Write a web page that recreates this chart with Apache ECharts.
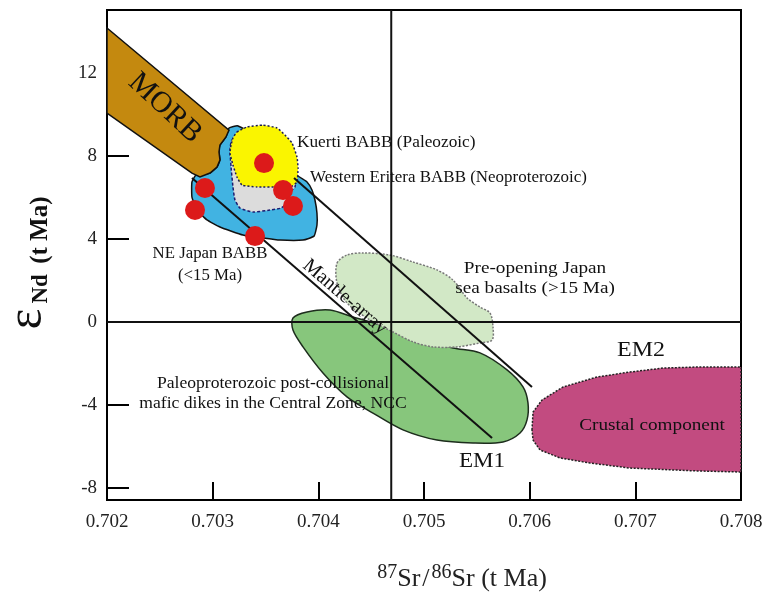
<!DOCTYPE html>
<html>
<head>
<meta charset="utf-8">
<script src="https://cdn.jsdelivr.net/npm/echarts@6/dist/echarts.min.js"></script>
<style>
  html, body { margin: 0; padding: 0; background: #fff; }
  #chart { width: 766px; height: 594px; }
</style>
</head>
<body>
<div id="chart"></div>
<script>
// Axis ticks
const SR_TICKS = [0.702, 0.703, 0.704, 0.705, 0.706, 0.707, 0.708];
const ND_TICKS = [-8, -4, 0, 4, 8, 12];

// Reference lines: epsilon Nd = 0 and bulk-earth 87Sr/86Sr
const BULK_EARTH_SR = 0.70469;
const CHUR_ND = 0;

// Mantle array bounding lines [Sr, eNd]
const MANTLE_UPPER = [[0.703770, 6.94], [0.706022, -3.13]];
const MANTLE_LOWER = [[0.702804, 6.94], [0.705644, -5.59]];

// Field outlines [87Sr/86Sr, eNd]
const MORB = [
  [0.702000, 14.17], [0.703155, 9.25], [0.703126, 8.92], [0.703069, 8.53],
  [0.703060, 8.19], [0.703069, 7.81], [0.703041, 7.47], [0.702975, 7.18],
  [0.702880, 6.99], [0.702804, 7.18], [0.702000, 10.07]
];
const NE_JAPAN_BABB = [
  [0.703155, 9.35], [0.703240, 9.45], [0.703637, 8.29], [0.703798, 7.08],
  [0.703893, 6.75], [0.703940, 6.36], [0.703968, 5.88], [0.703987, 5.25],
  [0.703987, 4.67], [0.703959, 4.14], [0.703855, 3.95], [0.703637, 3.95],
  [0.703476, 4.05], [0.703287, 4.19], [0.703069, 4.58], [0.702946, 4.92],
  [0.702852, 5.40], [0.702804, 6.02], [0.702804, 6.75], [0.702842, 7.08],
  [0.702975, 7.18], [0.703041, 7.47], [0.703069, 7.81], [0.703060, 8.19],
  [0.703069, 8.53], [0.703126, 8.92]
];
const WESTERN_ERITREA_BABB = [
  [0.703183, 8.77], [0.703467, 8.29], [0.703789, 7.23], [0.703779, 6.51],
  [0.703741, 6.31], [0.703713, 6.07], [0.703704, 5.73], [0.703647, 5.49],
  [0.703543, 5.40], [0.703382, 5.30], [0.703259, 5.49], [0.703211, 5.88],
  [0.703192, 6.51], [0.703174, 7.47], [0.703164, 8.29]
];
const KUERTI_BABB = [
  [0.703230, 9.16], [0.703325, 9.40], [0.703476, 9.49], [0.703609, 9.35],
  [0.703685, 9.01], [0.703751, 8.63], [0.703798, 7.95], [0.703808, 7.42],
  [0.703798, 6.75], [0.703751, 6.55], [0.703637, 6.51], [0.703420, 6.51],
  [0.703278, 6.60], [0.703230, 6.99], [0.703192, 7.57], [0.703164, 8.14],
  [0.703174, 8.53], [0.703192, 8.87]
];
const PRE_OPENING_JAPAN = [
  [0.704177, 2.84], [0.704271, 3.23], [0.704423, 3.33], [0.704678, 3.23],
  [0.704896, 2.89], [0.705123, 2.51], [0.705275, 2.02], [0.705407, 1.16],
  [0.705530, 0.72], [0.705625, 0.43], [0.705653, -0.24], [0.705644, -0.87],
  [0.705530, -1.01], [0.705312, -1.20], [0.705085, -1.20], [0.704896, -0.96],
  [0.704707, -0.48], [0.704489, 0.10], [0.704271, 0.92], [0.704177, 1.88]
];
const NCC_DIKES = [
  [0.703760, 0.19], [0.703893, 0.48], [0.704110, 0.58], [0.704328, 0.24],
  [0.704678, -0.29], [0.704991, -0.87], [0.705275, -1.25], [0.705530, -1.49],
  [0.705786, -2.31], [0.705937, -3.13], [0.705984, -3.90], [0.705975, -4.72],
  [0.705909, -5.35], [0.705748, -5.78], [0.705464, -5.83], [0.705123, -5.69],
  [0.704801, -5.20], [0.704517, -4.39], [0.704271, -3.61], [0.704044, -2.46],
  [0.703855, -1.20], [0.703760, -0.39]
];
const CRUSTAL = [
  [0.706022, -5.20], [0.706032, -4.34], [0.706117, -3.76], [0.706316, -3.13],
  [0.706637, -2.65], [0.706950, -2.41], [0.707262, -2.22], [0.707584, -2.17],
  [0.708000, -2.17], [0.708000, -7.23], [0.707584, -7.18], [0.706950, -7.04],
  [0.706571, -6.80], [0.706287, -6.55], [0.706098, -6.17], [0.706032, -5.69]
];

// BABB samples
const SAMPLES = [
  [0.702927, 6.46], [0.702833, 5.40], [0.703486, 7.66],
  [0.703666, 6.36], [0.703760, 5.59], [0.703401, 4.14]
];

const SR_MIN = 0.702, SR_MAX = 0.708;
const ND_MIN = -8.58, ND_MAX = 15.04;

const SERIF = '"Liberation Serif", "DejaVu Serif", serif';

function region(points, style, smooth, z) {
  return {
    type: 'custom',
    coordinateSystem: 'cartesian2d',
    silent: true,
    z: z,
    data: points,
    encode: { x: 0, y: 1 },
    renderItem: function (params, api) {
      if (params.dataIndex !== 0) return null;
      const pts = points.map(function (p) { return api.coord(p); });
      return {
        type: 'polygon',
        shape: { points: pts, smooth: smooth },
        style: Object.assign({}, style)
      };
    }
  };
}

function segment(points, z) {
  return {
    type: 'line',
    data: points,
    showSymbol: false,
    silent: true,
    z: z,
    lineStyle: { color: '#111', width: 2 }
  };
}

function label(text, x, y, size, opts) {
  opts = opts || {};
  return {
    type: 'text',
    x: x, y: y,
    rotation: opts.rotation || 0,
    scaleX: opts.scaleX || 1,
    z: 100,
    silent: true,
    style: {
      text: text,
      font: (opts.weight || 'normal') + ' ' + size + 'px ' + SERIF,
      fill: opts.color || '#111',
      align: opts.align || 'center',
      textAlign: opts.align || 'center',
      verticalAlign: 'middle',
      textVerticalAlign: 'middle',
      lineHeight: opts.lineHeight || Math.round(size * 1.25)
    }
  };
}

const chart = echarts.init(document.getElementById('chart'));

chart.setOption({
  animation: false,
  backgroundColor: '#fff',
  grid: {
    left: 107, right: 25, top: 10, bottom: 94,
    containLabel: false,
    outerBoundsMode: 'none',
    show: true, borderColor: '#000', borderWidth: 2, backgroundColor: 'transparent'
  },
  xAxis: {
    type: 'value',
    min: SR_MIN, max: SR_MAX,
    axisLine: { show: true, onZero: false, lineStyle: { color: '#000', width: 2 } },
    axisTick: { show: true, inside: true, length: 18, customValues: SR_TICKS,
                lineStyle: { color: '#000', width: 2 } },
    axisLabel: { customValues: SR_TICKS, margin: 13, color: '#222',
                 fontFamily: SERIF, fontSize: 19,
                 formatter: function (v) { return v.toFixed(3); } },
    splitLine: { show: false },
    name: '{sup|87}{b|Sr}{sl|/}{sup|86}{b|Sr (t Ma)}',
    nameLocation: 'middle',
    nameGap: 63,
    nameTextStyle: {
      padding: [0, 0, 0, 76],
      rich: {
        sup: { fontFamily: SERIF, fontSize: 20, color: '#222', verticalAlign: 'top', padding: [0, 0, 9, 0] },
        b: { fontFamily: SERIF, fontSize: 26, color: '#222', verticalAlign: 'bottom' },
        sl: { fontFamily: SERIF, fontSize: 26, color: '#222', verticalAlign: 'bottom', padding: [0, 2, 0, 2] }
      }
    }
  },
  yAxis: {
    type: 'value',
    min: ND_MIN, max: ND_MAX,
    axisLine: { show: true, onZero: false, lineStyle: { color: '#000', width: 2 } },
    axisTick: { show: true, inside: true, length: 22, customValues: ND_TICKS,
                lineStyle: { color: '#000', width: 2 } },
    axisLabel: { customValues: ND_TICKS, margin: 10, color: '#222',
                 fontFamily: SERIF, fontSize: 19 },
    splitLine: { show: false },
    name: '{e|\u03b5}{sub|Nd}{t| (t Ma)}',
    nameLocation: 'middle',
    nameRotate: 90,
    nameGap: 54,
    nameTextStyle: {
      padding: [0, 16, 0, 0],
      rich: {
        e: { fontFamily: SERIF, fontSize: 50, color: '#111', verticalAlign: 'bottom' },
        sub: { fontFamily: SERIF, fontSize: 23, fontWeight: 'bold', color: '#111', verticalAlign: 'bottom', padding: [0, 4, 0, 5] },
        t: { fontFamily: SERIF, fontSize: 25, fontWeight: 'bold', color: '#111', verticalAlign: 'bottom' }
      }
    }
  },
  series: [
    region(NE_JAPAN_BABB, { fill: '#41b3e2', stroke: '#111', lineWidth: 1.5 }, 0.15, 2),
    region(MORB, { fill: '#c4890f', stroke: '#111', lineWidth: 1.5 }, 0, 2),
    region(WESTERN_ERITREA_BABB, { fill: '#dcdcdc', stroke: '#1c1c70', lineWidth: 1.5, lineDash: [3, 2] }, 0.15, 2),
    region(KUERTI_BABB, { fill: '#faf500', stroke: '#1c1c50', lineWidth: 1.5, lineDash: [2, 2] }, 0.15, 2),
    region(NCC_DIKES, { fill: '#87c67c', stroke: '#1d2d1d', lineWidth: 1.5 }, 0.3, 2),
    region(PRE_OPENING_JAPAN, { fill: '#d2e8c6', stroke: '#777', lineWidth: 1.5, lineDash: [2, 1.5] }, 0.3, 2),
    region(CRUSTAL, { fill: '#c24b80', stroke: '#222', lineWidth: 1.5, lineDash: [2, 1.5] }, 0, 2),
    segment(MANTLE_UPPER, 3),
    segment(MANTLE_LOWER, 3),
    segment([[SR_MIN, CHUR_ND], [SR_MAX, CHUR_ND]], 3),
    segment([[BULK_EARTH_SR, ND_MIN], [BULK_EARTH_SR, ND_MAX]], 3),
    {
      type: 'scatter',
      data: SAMPLES,
      symbol: 'circle',
      symbolSize: 20,
      silent: true,
      z: 4,
      itemStyle: { color: '#dc1a1a', opacity: 1 }
    }
  ],
  graphic: [
    label('MORB', 165, 108, 30, { rotation: -0.75 }),
    label('Mantle-array', 345, 297, 20, { rotation: -0.71 }),
    label('Kuerti BABB (Paleozoic)', 297, 143, 16, { align: 'left', scaleX: 1.08 }),
    label('Western Eritera BABB (Neoproterozoic)', 310, 178, 16, { align: 'left', scaleX: 1.06 }),
    label('NE Japan BABB\n(<15 Ma)', 210, 265, 16, { lineHeight: 22, scaleX: 1.05 }),
    label('Pre-opening Japan\nsea basalts (>15 Ma)', 535, 279, 16, { lineHeight: 20, scaleX: 1.2 }),
    label('Paleoproterozoic post-collisional\nmafic dikes in the Central Zone, NCC', 273, 394, 16, { lineHeight: 20, scaleX: 1.1 }),
    label('EM2', 641, 350, 22, { scaleX: 1.09 }),
    label('EM1', 482, 461, 22, { scaleX: 1.05 }),
    label('Crustal component', 652, 426, 17, { scaleX: 1.13 })
  ]
});
</script>
</body>
</html>
